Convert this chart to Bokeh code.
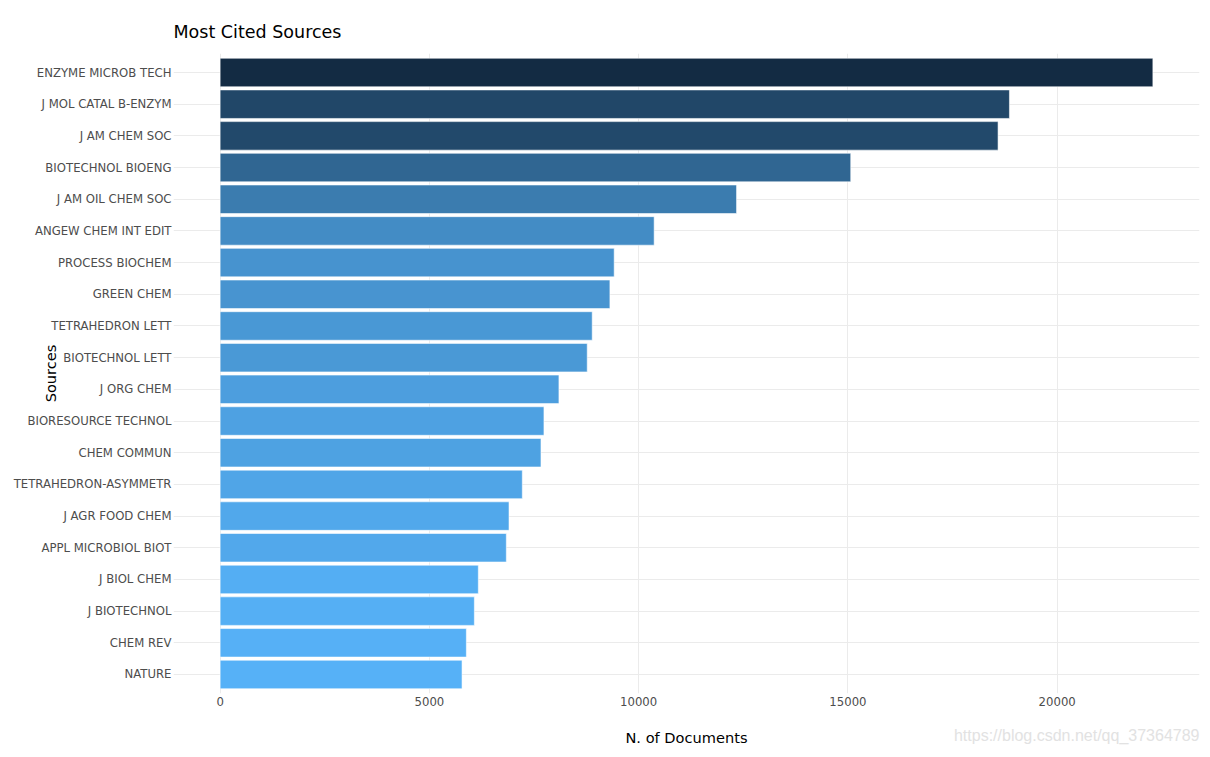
import numpy as np
from bokeh.plotting import figure
from bokeh.models import ColumnDataSource, FactorRange, Range1d, FixedTicker, Title
from bokeh.embed import file_html
from bokeh.resources import INLINE

sources = [
    "ENZYME MICROB TECH", "J MOL CATAL B-ENZYM", "J AM CHEM SOC", "BIOTECHNOL BIOENG",
    "J AM OIL CHEM SOC", "ANGEW CHEM INT EDIT", "PROCESS BIOCHEM", "GREEN CHEM",
    "TETRAHEDRON LETT", "BIOTECHNOL LETT", "J ORG CHEM", "BIORESOURCE TECHNOL",
    "CHEM COMMUN", "TETRAHEDRON-ASYMMETR", "J AGR FOOD CHEM", "APPL MICROBIOL BIOT",
    "J BIOL CHEM", "J BIOTECHNOL", "CHEM REV", "NATURE",
]
documents = [
    22286, 18859, 18587, 15067, 12339, 10370, 9415, 9313, 8890, 8771,
    8095, 7737, 7666, 7220, 6902, 6838, 6169, 6074, 5883, 5780,
]
x_ticks = [0, 5000, 10000, 15000, 20000]
title_text = "Most Cited Sources"
x_title = "N. of Documents"
y_title = "Sources"
watermark = "https://blog.csdn.net/qq_37364789"

LOW = np.array([0x56, 0xB1, 0xF7], dtype=float)
HIGH = np.array([0x13, 0x2B, 0x43], dtype=float)
vals = np.array(documents, dtype=float)
t = (vals - vals.min()) / (vals.max() - vals.min())
colors = []
for ti in t:
    c = LOW + (HIGH - LOW) * ti
    colors.append("#%02x%02x%02x" % tuple(int(round(v)) for v in c))

src = ColumnDataSource(dict(src=sources, n=documents, color=colors))

vmax = max(documents)
x_lo, x_hi = -0.05 * vmax, 1.05 * vmax
p = figure(
    width=1200, height=750,
    y_range=FactorRange(factors=list(reversed(sources)), range_padding=0.1, range_padding_units="absolute"),
    x_range=Range1d(x_lo, x_hi),
    output_backend="svg", toolbar_location=None,
    min_border_left=173, min_border_right=1, min_border_top=53, min_border_bottom=57,
    title=title_text,
)
p.hbar(y="src", right="n", left=0, height=0.9, fill_color="color",
       line_color="white", line_alpha=0.55, line_width=1, source=src)

p.outline_line_color = None
p.background_fill_color = "white"
p.border_fill_color = "white"

p.title.text_font = "DejaVu Sans"
p.title.text_font_size = "17.5px"
p.title.text_font_style = "normal"
p.title.text_color = "black"
p.title.align = "left"
p.title.standoff = 24

for ax in (p.xaxis[0], p.yaxis[0]):
    ax.axis_line_color = None
    ax.major_tick_line_color = None
    ax.minor_tick_line_color = None
    ax.major_tick_out = 0
    ax.major_tick_in = 0
    ax.minor_tick_out = 0
    ax.minor_tick_in = 0
    ax.major_label_text_font = "DejaVu Sans"
    ax.major_label_text_font_size = "11.7px"
    ax.major_label_text_color = "#4d4d4d"
    ax.axis_label_text_font = "DejaVu Sans"
    ax.axis_label_text_font_size = "14.6px"
    ax.axis_label_text_font_style = "normal"
    ax.axis_label_text_color = "black"

p.xaxis.ticker = FixedTicker(ticks=x_ticks)
p.xaxis.major_label_standoff = 3
p.xaxis.axis_label = x_title
p.xaxis.axis_label_standoff = 20

p.yaxis.major_label_standoff = 2
p.yaxis.axis_label = y_title
p.yaxis.axis_label_standoff = -48

p.xgrid.grid_line_color = "#ebebeb"
p.ygrid.grid_line_color = "#ebebeb"
p.xgrid.ticker = FixedTicker(ticks=x_ticks)

wm = Title(text=watermark, align="right", vertical_align="top",
           text_font="Liberation Sans", text_font_size="16px", text_font_style="normal",
           text_color="#e2e2e2", standoff=-44)
p.add_layout(wm, "below")

open("out.html", "w").write(file_html(p, INLINE))
